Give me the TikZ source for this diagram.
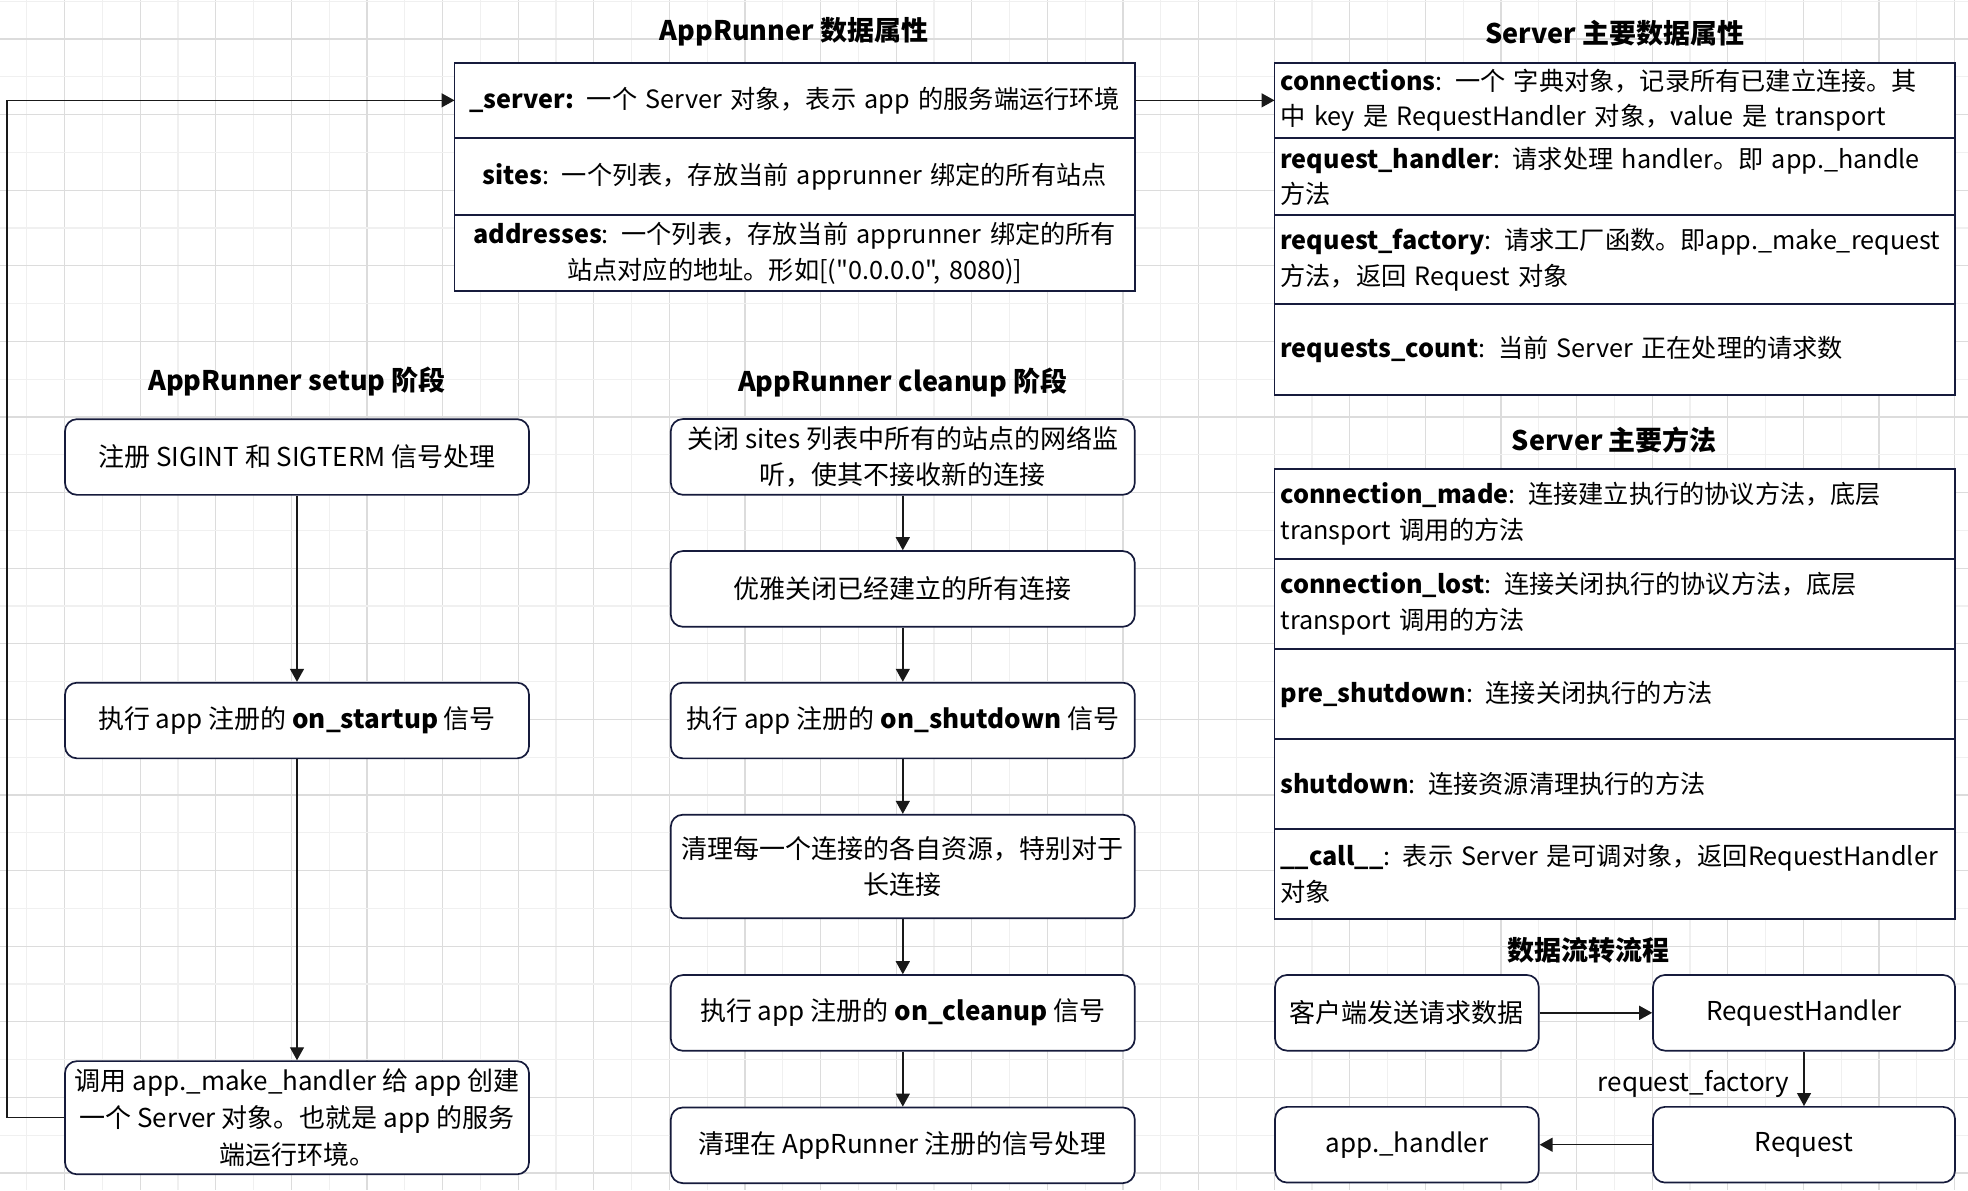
\documentclass[tikz,border=0pt]{standalone}
\usepackage{fontspec}
\setmainfont{Noto Sans CJK SC}[Ligatures=TeXOff]
\usetikzlibrary{positioning,arrows.meta}

\definecolor{edgenavy}{RGB}{22,27,60}
\definecolor{gridlight}{RGB}{240,240,240}
\definecolor{griddark}{RGB}{220,220,220}

\newcommand\stepfont{\fontsize{13}{18.3}\selectfont}
\newcommand\rowfont{\fontsize{12.6}{17.8}\selectfont}

\tikzset{
	gridminor/.style={draw=gridlight,line width=0.65pt},
	gridmajor/.style={draw=griddark,line width=0.65pt},
	headlabel/.style={font=\bfseries\fontsize{13.5}{16}\selectfont,inner sep=0pt},
	stepbox/.style={draw=edgenavy,line width=0.85pt,fill=white,rounded corners=6pt,
		minimum width=232pt,minimum height=37.85pt,inner sep=2pt,align=center,font=\stepfont},
	attrrow/.style={draw=edgenavy,line width=0.85pt,fill=white,text width=334.25pt,
		inner xsep=3pt,inner ysep=0pt,outer sep=0pt,align=center,font=\rowfont},
	srvrow/.style={attrrow,align=left},
	flow/.style={-{Triangle[length=6.5pt,width=7pt]},line width=0.7pt,draw=black!90}
}

\begin{document}
\begin{tikzpicture}[x=0.5pt,y=-0.5pt]
	% background grid
	\useasboundingbox[fill=white](0,0)rectangle(1968,1190);
	\foreach \k in {0,2,...,50}\draw[gridminor]({26.8+37.8*\k},0)--({26.8+37.8*\k},1190);
	\foreach \k in {1,3,...,51}\draw[gridmajor]({26.8+37.8*\k},0)--({26.8+37.8*\k},1190);
	\foreach \k in {0,2,...,30}\draw[gridminor](0,{1.2+37.8*\k})--(1968,{1.2+37.8*\k});
	\foreach \k in {1,3,...,31}\draw[gridmajor](0,{1.2+37.8*\k})--(1968,{1.2+37.8*\k});

	% AppRunner data attributes
	\node[headlabel](appattrtitle)at(794,32){AppRunner 数据属性};
	\node[attrrow,minimum height=37.65pt,anchor=north west](server)at(454.5,62.7){\textbf{\_server:} 一个 Server 对象，表示 app 的服务端运行环境};
	\node[attrrow,minimum height=38.5pt,below=0pt of server](sites){\textbf{sites}: 一个列表，存放当前 apprunner 绑定的所有站点};
	\node[attrrow,minimum height=38pt,below=0pt of sites](addresses){\textbf{addresses}: 一个列表，存放当前 apprunner 绑定的所有\\站点对应的地址。形如[("0.0.0.0", 8080)]};

	% Server data attributes
	\node[headlabel](srvattrtitle)at(1614.6,33){Server 主要数据属性};
	\node[srvrow,minimum height=37.65pt,anchor=north west](connections)at(1274.5,62.7){\textbf{connections}: 一个 字典对象，记录所有已建立连接。其\\中 key 是 RequestHandler 对象，value 是 transport};
	\node[srvrow,minimum height=38.5pt,below=0pt of connections](reqhandlerrow){\textbf{request\_handler}: 请求处理 handler。即 app.\_handle\\方法};
	\node[srvrow,minimum height=44.5pt,below=0pt of reqhandlerrow](reqfactoryrow){\textbf{request\_factory}: 请求工厂函数。即app.\_make\_request\\方法，返回 Request 对象};
	\node[srvrow,minimum height=45.5pt,below=0pt of reqfactoryrow](reqcountrow){\textbf{requests\_count}: 当前 Server 正在处理的请求数};

	% Server methods
	\node[headlabel](srvmethtitle)at(1614.4,440){Server 主要方法};
	\node[srvrow,minimum height=45pt,anchor=north west](connmade)at(1274.5,469){\textbf{connection\_made}: 连接建立执行的协议方法，底层\\transport 调用的方法};
	\node[srvrow,minimum height=45pt,below=0pt of connmade](connlost){\textbf{connection\_lost}: 连接关闭执行的协议方法，底层\\transport 调用的方法};
	\node[srvrow,minimum height=45pt,below=0pt of connlost](preshut){\textbf{pre\_shutdown}: 连接关闭执行的方法};
	\node[srvrow,minimum height=45pt,below=0pt of preshut](shutrow){\textbf{shutdown}: 连接资源清理执行的方法};
	\node[srvrow,minimum height=45pt,below=0pt of shutrow](callrow){\textbf{\_\_call\_\_}: 表示 Server 是可调对象，返回RequestHandler\\对象};

	% data flow
	\node[headlabel](flowtitle)at(1588.4,950.7){数据流转流程};
	\node[stepbox,minimum width=131.85pt](client)at(1406.9,1012.8){客户端发送请求数据};
	\node[stepbox,minimum width=151pt](reqhandler)at(1804,1012.8){RequestHandler};
	\node[stepbox,minimum width=131.85pt](apphandler)at(1406.9,1144.7){app.\_handler};
	\node[stepbox,minimum width=151pt](request)at(1804,1144.7){Request};
	\draw[flow](client)--(reqhandler);
	\draw[flow](reqhandler)--node[pos=0.6,left,inner xsep=7pt,font=\stepfont]{request\_factory}(request);
	\draw[flow](request)--(apphandler);

	% setup
	\node[headlabel](setuptitle)at(297,381.7){AppRunner setup 阶段};
	\node[stepbox](sigreg)at(297,457){注册 SIGINT 和 SIGTERM 信号处理};
	\node[stepbox](startup)at(297,720.5){执行 app 注册的 \textbf{on\_startup} 信号};
	\node[stepbox,minimum height=56.6pt](makehandler)at(297,1117.7){调用 app.\_make\_handler 给 app 创建\\一个 Server 对象。也就是 app 的服务\\端运行环境。};
	\draw[flow](sigreg)--(startup);
	\draw[flow](startup)--(makehandler);
	\draw[flow](makehandler.west)--++(-57,0)|-(server.west);
	\draw[flow](server.east)--(server.east-|connections.west);

	% cleanup
	\node[headlabel](cleanuptitle)at(902.8,382.7){AppRunner cleanup 阶段};
	\node[stepbox](closesites)at(902.8,456.9){关闭 sites 列表中所有的站点的网络监\\听，使其不接收新的连接};
	\node[stepbox](closeconn)at(902.8,588.9){优雅关闭已经建立的所有连接};
	\node[stepbox](shutdown)at(902.8,720.5){执行 app 注册的 \textbf{on\_shutdown} 信号};
	\node[stepbox,minimum height=51.8pt](cleanres)at(902.8,866.5){清理每一个连接的各自资源，特别对于\\长连接};
	\node[stepbox](cleanup)at(902.8,1012.9){执行 app 注册的 \textbf{on\_cleanup} 信号};
	\node[stepbox](unreg)at(902.8,1145.3){清理在 AppRunner 注册的信号处理};
	\foreach \a/\b in {closesites/closeconn,closeconn/shutdown,shutdown/cleanres,cleanres/cleanup,cleanup/unreg}
		\draw[flow](\a)--(\b);
\end{tikzpicture}
\end{document}
